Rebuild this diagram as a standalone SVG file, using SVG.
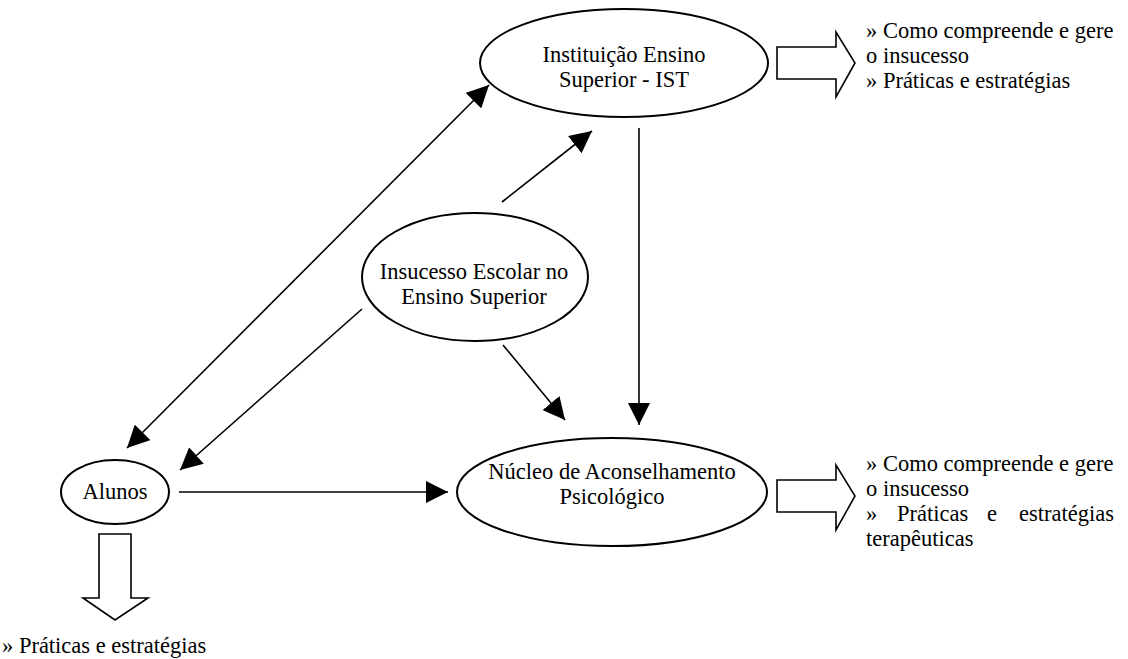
<svg xmlns="http://www.w3.org/2000/svg" width="1128" height="659" viewBox="0 0 1128 659">
<style>
text{font-family:"Liberation Serif","Times New Roman",Tinos,"DejaVu Serif",serif;font-size:22.5px;fill:#000}
.c{text-anchor:middle}
.e{text-anchor:end}
.node{fill:#fff;stroke:#000;stroke-width:2}
.blk{fill:#fff;stroke:#000;stroke-width:1.6}
.ln{stroke:#000;stroke-width:1.6;fill:none;marker-end:url(#ah)}
</style>
<defs>
<marker id="ah" markerUnits="userSpaceOnUse" markerWidth="22" markerHeight="22" refX="20" refY="10" orient="auto-start-reverse" viewBox="0 0 20 20">
<path d="M0,0 L20,10 L0,20 z" fill="#000"/>
</marker>
</defs>
<rect width="1128" height="659" fill="#fff"/>
<g id="connectors">
<line class="ln" x1="127" y1="448" x2="489" y2="85" style="marker-start:url(#ah)"/>
<line class="ln" x1="362" y1="309" x2="180" y2="470"/>
<line class="ln" x1="502" y1="202" x2="592" y2="131"/>
<line class="ln" x1="503" y1="345" x2="565" y2="420"/>
<line class="ln" x1="639" y1="128" x2="639" y2="425"/>
<line class="ln" x1="179" y1="492" x2="448" y2="492"/>
</g>
<g id="ist">
<ellipse class="node" cx="624" cy="63" rx="144" ry="54"/>
<text class="c" x="624" y="62" font-family="Liberation Serif, serif">Instituição Ensino</text>
<text class="c" x="624" y="87" font-family="Liberation Serif, serif">Superior - IST</text>
</g>
<g id="ist-out">
<path class="blk" d="M777,47 H836 V32 L855,63 L836,97 V79 H777 Z"/>
<text x="866" y="38">» Como compreende e gere</text>
<text x="866" y="63">o insucesso</text>
<text x="866" y="88">» Práticas e estratégias</text>
</g>
<g id="insucesso">
<ellipse class="node" cx="475" cy="277" rx="113" ry="64"/>
<text class="c" x="474" y="279">Insucesso Escolar no</text>
<text class="c" x="474" y="304">Ensino Superior</text>
</g>
<g id="alunos">
<ellipse class="node" cx="115" cy="492" rx="54" ry="32"/>
<text class="c" x="115" y="499">Alunos</text>
</g>
<g id="alunos-out">
<path class="blk" d="M99,534 H131 V598 H148 L115,620 L83,598 H99 Z"/>
<text x="2" y="653">» Práticas e estratégias</text>
</g>
<g id="nucleo">
<ellipse class="node" cx="612" cy="492" rx="155" ry="54"/>
<text class="c" x="612" y="479">Núcleo de Aconselhamento</text>
<text class="c" x="612" y="504">Psicológico</text>
</g>
<g id="nucleo-out">
<path class="blk" d="M777,480 H836 V465 L855,496 L836,530 V512 H777 Z"/>
<text x="866" y="471">» Como compreende e gere</text>
<text x="866" y="496">o insucesso</text>
<text x="866" y="521">»</text>
<text x="897" y="521">Práticas</text>
<text x="987" y="521">e</text>
<text class="e" x="1114" y="521">estratégias</text>
<text x="866" y="546">terapêuticas</text>
</g>
</svg>
